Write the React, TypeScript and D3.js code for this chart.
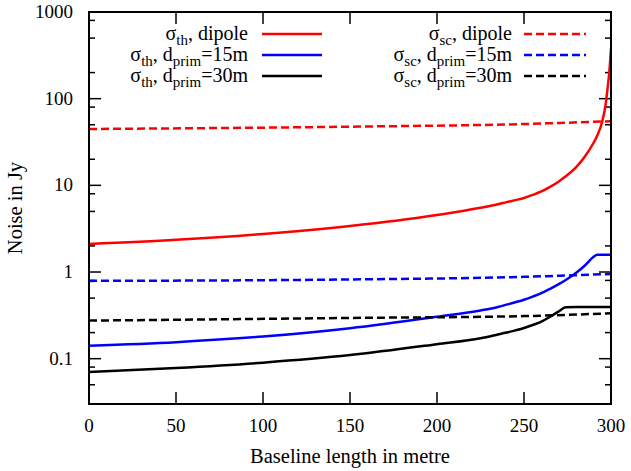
import React from "react";
import * as d3 from "d3";

const baselines = [0, 50, 100, 150, 200, 225, 235, 240, 245, 250, 255, 260, 265, 270, 274, 280, 285, 290, 292, 295, 297, 298, 299, 300];
const thDipole = [2.1, 2.35, 2.75, 3.4, 4.55, 5.5, 6.05, 6.4, 6.75, 7.15, 7.75, 8.5, 9.6, 11.1, 12.7, 16.2, 21.5, 31, 37, 55, 88, 130, 200, 380];
const th15 = [0.141, 0.155, 0.18, 0.225, 0.305, 0.36, 0.395, 0.42, 0.447, 0.478, 0.52, 0.57, 0.64, 0.725, 0.81, 0.98, 1.19, 1.5, 1.58, 1.58, 1.58, 1.58, 1.58, 1.58];
const th30 = [0.07, 0.078, 0.09, 0.11, 0.147, 0.172, 0.19, 0.2, 0.212, 0.226, 0.245, 0.268, 0.305, 0.352, 0.392, 0.395, 0.395, 0.395, 0.395, 0.395, 0.395, 0.395, 0.395, 0.395];
const scBaselines = [0, 150, 250, 300];
const scDipole = [44.7, 47.5, 51, 55];
const sc15 = [0.79, 0.82, 0.88, 0.95];
const sc30 = [0.275, 0.295, 0.31, 0.334];

const xTicks = [0, 50, 100, 150, 200, 250, 300];
const yMajor = [0.1, 1, 10, 100, 1000];
const yMajorLabels = ["0.1", "1", "10", "100", "1000"];
const yMinor = [0.05, 0.08, 0.2, 0.5, 0.8, 2, 5, 8, 20, 50, 80, 200, 500, 800];

const W = 631, H = 471;
const L = 89, R = 611, T = 12, B = 404;
const FONT = "'Liberation Serif', 'Times New Roman', serif";

export default function App() {
  const x = d3.scaleLinear().domain([0, 300]).range([L, R]);
  const y = d3.scaleLog().domain([0.03, 1000]).range([B, T]);
  const line = (xs: number[], ys: number[]) =>
    d3.line<number>().x((_, i) => x(xs[i])).y((v) => y(v)).curve(d3.curveMonotoneX)(ys) || "";

  const series = [
    { xs: baselines, ys: thDipole, color: "#ff0000", dash: undefined },
    { xs: baselines, ys: th15, color: "#0000ff", dash: undefined },
    { xs: baselines, ys: th30, color: "#000000", dash: undefined },
    { xs: scBaselines, ys: scDipole, color: "#ff0000", dash: "8,4" },
    { xs: scBaselines, ys: sc15, color: "#0000ff", dash: "8,4" },
    { xs: scBaselines, ys: sc30, color: "#000000", dash: "8,4" },
  ];

  const legendRows = [34, 55, 76];
  const leftLabels = [
    { sub: "th", rest: ", dipole", d: null },
    { sub: "th", rest: ", d", d: "=15m" },
    { sub: "th", rest: ", d", d: "=30m" },
  ];
  const rightLabels = [
    { sub: "sc", rest: ", dipole", d: null },
    { sub: "sc", rest: ", d", d: "=15m" },
    { sub: "sc", rest: ", d", d: "=30m" },
  ];
  const colors = ["#ff0000", "#0000ff", "#000000"];

  const renderLabel = (lab: any, xEnd: number, yRow: number, key: string) => (
    <text key={key} x={xEnd} y={yRow + 6} textAnchor="end" fontSize={20} fontFamily={FONT} fill="#000">
      σ<tspan fontSize={15} dy={5}>{lab.sub}</tspan>
      <tspan dy={-5}>{lab.rest}</tspan>
      {lab.d && (
        <>
          <tspan fontSize={15} dy={5}>prim</tspan>
          <tspan dy={-5}>{lab.d}</tspan>
        </>
      )}
    </text>
  );

  return (
    <svg width={W} height={H} style={{ position: "absolute", left: 0, top: 0, background: "#fff" }}>
      <defs>
        <clipPath id="plot">
          <rect x={L} y={T} width={R - L} height={B - T} />
        </clipPath>
      </defs>
      <rect x={0} y={0} width={W} height={H} fill="#fff" />
      <g stroke="#000" strokeWidth={1.5}>
        {xTicks.map((t) => (
          <g key={"xt" + t}>
            <line x1={x(t)} x2={x(t)} y1={B} y2={B - 12} />
            <line x1={x(t)} x2={x(t)} y1={T} y2={T + 12} />
          </g>
        ))}
        {yMajor.map((t) => (
          <g key={"ym" + t}>
            <line x1={L} x2={L + 12} y1={y(t)} y2={y(t)} />
            <line x1={R} x2={R - 12} y1={y(t)} y2={y(t)} />
          </g>
        ))}
        {yMinor.map((t) => (
          <g key={"yn" + t}>
            <line x1={L} x2={L + 6} y1={y(t)} y2={y(t)} />
            <line x1={R} x2={R - 6} y1={y(t)} y2={y(t)} />
          </g>
        ))}
      </g>
      <g fontFamily={FONT} fontSize={19} fill="#000">
        {xTicks.map((t) => (
          <text key={"xl" + t} x={x(t)} y={432} textAnchor="middle">{t}</text>
        ))}
        {yMajor.map((t, i) => (
          <text key={"yl" + t} x={73} y={y(t) + 6} textAnchor="end">{yMajorLabels[i]}</text>
        ))}
      </g>
      <g clipPath="url(#plot)" fill="none">
        {series.map((s, i) => (
          <path key={"s" + i} d={line(s.xs, s.ys)} stroke={s.color} strokeWidth={2.5} strokeDasharray={s.dash} />
        ))}
      </g>
      {legendRows.map((ry, i) => (
        <g key={"lg" + i}>
          {renderLabel(leftLabels[i], 248, ry, "ll" + i)}
          <line x1={262} x2={322} y1={ry} y2={ry} stroke={colors[i]} strokeWidth={2.5} />
          {renderLabel(rightLabels[i], 512, ry, "rl" + i)}
          <line x1={524} x2={586} y1={ry} y2={ry} stroke={colors[i]} strokeWidth={2.5} strokeDasharray="8,4" />
        </g>
      ))}
      <rect x={L} y={T} width={R - L} height={B - T} fill="none" stroke="#000" strokeWidth={2} />
      <text x={350} y={463} textAnchor="middle" fontFamily={FONT} fontSize={20.5}>Baseline length in metre</text>
      <text transform={`translate(22,${(T + B) / 2}) rotate(-90)`} textAnchor="middle" fontFamily={FONT} fontSize={20.5}>Noise in Jy</text>
    </svg>
  );
}
